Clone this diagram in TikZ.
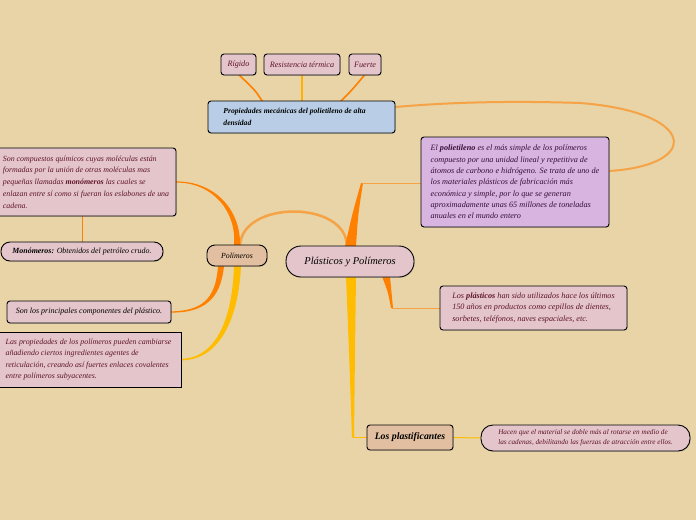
\documentclass[tikz,border=0pt]{standalone}
\usepackage{fontspec}
\setmainfont{Liberation Serif}
\usetikzlibrary{calc,shadows}
\pgfdeclarelayer{back}
\pgfdeclarelayer{edges}
\pgfsetlayers{back,edges,main}
\definecolor{bgc}{RGB}{232,212,167}
\definecolor{pinkf}{RGB}{227,197,203}
\definecolor{tanf}{RGB}{226,191,160}
\definecolor{bluef}{RGB}{185,206,230}
\definecolor{lilacf}{RGB}{216,180,224}
\definecolor{maroon}{RGB}{95,20,40}
\definecolor{purpt}{RGB}{55,15,55}
\definecolor{bror}{RGB}{255,128,0}
\definecolor{lor}{RGB}{245,163,70}
\definecolor{yel}{RGB}{255,188,0}
\tikzset{
  basebox/.style={draw=black, line width=0.9pt, rounded corners=3pt, inner sep=0pt,
    font=\itshape\fontsize{8.2}{11.5}\selectfont,
    drop shadow={opacity=0.25, shadow xshift=0.8pt, shadow yshift=-0.8pt}},
  pinkbox/.style={basebox, fill=pinkf, text=maroon},
  tanbox/.style={basebox, fill=tanf, text=black},
  textblock/.style={align=left},
  thinln/.style={line width=1pt},
}
\begin{document}
\begin{tikzpicture}[x=1pt,y=-1pt]
\begin{pgfonlayer}{back}
\fill[bgc] (0,0) rectangle (696,520);
\end{pgfonlayer}
\useasboundingbox (0,0) rectangle (696,520);

% central
\node[pinkbox, text=black, rounded corners=15pt, minimum width=128pt, minimum height=31pt,
      font=\itshape\fontsize{10.5}{12}\selectfont] (c) at (350,261.5) {Plásticos y Polímeros};
% Polimeros
\node[tanbox, rounded corners=8pt, minimum width=60pt, minimum height=21pt, font=\itshape\fontsize{7.8}{10}\selectfont] (pol) at (237,255.5) {Polímeros};
% Propiedades
\node[basebox, fill=bluef, text=black, textblock, minimum width=187pt, minimum height=32pt,
      font=\itshape\bfseries\fontsize{7.6}{11.5}\selectfont] (prop) at (301.5,117)
  {Propiedades mecánicas del polietileno de alta\hspace*{14pt}\\densidad};
\node[pinkbox, minimum width=35pt, minimum height=21pt] (rig) at (238.5,64.5) {Rígido};
\node[pinkbox, minimum width=76pt, minimum height=21pt] (res) at (302,64.5) {Resistencia térmica};
\node[pinkbox, minimum width=32pt, minimum height=21pt] (fu) at (365,64.5) {Fuerte};
% Polietileno
\node[basebox, fill=lilacf, text=purpt, textblock, minimum width=188pt, minimum height=90pt,
      font=\itshape\fontsize{8.2}{11.3}\selectfont] (pe) at (515,182)
  {El \textbf{polietileno} es el más simple de los polímeros\\
   compuesto por una unidad lineal y repetitiva de\\
   átomos de carbono e hidrógeno. Se trata de uno de\\
   los materiales plásticos de fabricación más\\
   económica y simple, por lo que se generan\\
   aproximadamente unas 65 millones de toneladas\\
   anuales en el mundo entero};
% Los plasticos
\node[pinkbox, textblock, minimum width=187pt, minimum height=44pt,
      font=\itshape\fontsize{8.2}{11.7}\selectfont] (lp) at (533.5,308)
  {Los \textbf{plásticos} han sido utilizados hace los últimos\\
   150 años en productos como cepillos de dientes,\\
   sorbetes, teléfonos, naves espaciales, etc.};
% Los plastificantes
\node[tanbox, minimum width=86pt, minimum height=25pt,
      font=\itshape\bfseries\fontsize{9.8}{11}\selectfont] (plf) at (410,437.5) {Los plastificantes};
\node[pinkbox, rounded corners=12pt, textblock, minimum width=209pt, minimum height=26pt,
      font=\itshape\fontsize{7.2}{10}\selectfont] (hac) at (585.5,438)
  {Hacen que el material se doble más al rotarse en medio de\\
   las cadenas, debilitando las fuerzas de atracción entre ellos.};
% left side
\node[pinkbox, textblock, minimum width=180pt, minimum height=68pt,
      font=\itshape\fontsize{7.9}{11.7}\selectfont] (lb) at (86,182)
  {Son compuestos químicos cuyas moléculas están\\
   formadas por la unión de otras moléculas mas\\
   pequeñas llamadas \textbf{monómeros} las cuales se\\
   enlazan entre sí como si fueran los eslabones de una\\
   cadena.};
\node[pinkbox, fill=pinkf, text=black, rounded corners=9pt, minimum width=162pt, minimum height=19pt,
      font=\itshape\fontsize{7.9}{10}\selectfont] (mon) at (82,251.5)
  {\textbf{Monómeros:} Obtenidos del petróleo crudo.};
\node[pinkbox, text=black, minimum width=164pt, minimum height=22pt,
      font=\itshape\fontsize{8}{10}\selectfont] (sp) at (89,312)
  {Son los principales componentes del plástico.};
\node[pinkbox, rounded corners=0pt, textblock, minimum width=185pt, minimum height=55pt,
      font=\itshape\fontsize{7.9}{11.3}\selectfont] (lprop) at (88.5,359.5)
  {Las propiedades de los polímeros pueden cambiarse\\
   añadiendo ciertos ingredientes agentes de\\
   reticulación, creando así fuertes enlaces covalentes\\
   entre polímeros subyacentes.};

\begin{pgfonlayer}{edges}
% central -> Polimeros arc
\draw[lor, line width=2.5pt] ($(c.north)+(-3,1)$) .. controls (347,200) and (242,200) .. ($(pol.north)+(3,1)$);
% central -> polietileno
\coordinate (k1) at (362,183);
\fill[bror] ($(c.north)+(-5,1)$) .. controls (352,215) .. ($(k1)+(-1,0)$) -- ($(k1)+(1,0)$) .. controls (358,215) .. ($(c.north)+(6,1)$) -- cycle;
\draw[lor, thinln] (k1) -- (k1 -| pe.west);
% central -> plasticos
\coordinate (k2) at (392,308);
\fill[bror] ($(c.south)+(32,-1)$) .. controls (388,292) .. ($(k2)+(-1,0)$) -- ($(k2)+(1,0)$) .. controls (392,292) .. ($(c.south)+(40,-1)$) -- cycle;
\draw[lor, thinln] (k2) -- (k2 -| lp.west);
% central -> plastificantes
\coordinate (k3) at (353,437.5);
\fill[yel] ($(c.south)+(-4,-1)$) .. controls (349,350) .. ($(k3)+(-1,0)$) -- ($(k3)+(1,0)$) .. controls (355,350) .. ($(c.south)+(6,-1)$) -- cycle;
\draw[yel, thinln] (k3) -- (plf.west);
\draw[yel, thinln] (plf.east) -- (hac.west);
% polietileno -> propiedades
\draw[lor, line width=2pt] ($(pe.east)+(0,-11)$) .. controls (702,165) and (697,112) .. (580,103)
      .. controls (490,100) and (430,104) .. ($(prop.east)+(0,-10)$);
% propiedades -> children
\draw[bror, line width=1.6pt] ($(prop.north)+(-39,1)$) .. controls (255,90) .. ($(rig.south)+(0,-1)$);
\draw[yel!80!bror, line width=1.6pt] ($(prop.north)+(0.5,1)$) -- ($(res.south)+(0,-1)$);
\draw[bror, line width=1.6pt] ($(prop.north)+(39,1)$) .. controls (352,90) .. ($(fu.south)+(0,-1)$);
% Polimeros -> left box
\fill[bror] ($(lb.east)+(-1,-0.6)$) .. controls (215,181) and (241,210) .. ($(pol.north)+(3,1)$)
      -- ($(pol.north)+(-3,1)$) .. controls (237,212) and (213,182) .. ($(lb.east)+(-1,0.6)$) -- cycle;
% Polimeros -> son los principales
\fill[bror] ($(pol.south)+(-19,-1)$) .. controls (216,300) and (201,311) .. ($(sp.east)+(-1,-0.6)$)
      -- ($(sp.east)+(-1,0.6)$) .. controls (203,313) and (221,300) .. ($(pol.south)+(-13,-1)$) -- cycle;
% Polimeros -> las propiedades
\fill[yel] ($(pol.south)+(-3,-1)$) .. controls (232,330) and (210,359) .. ($(lprop.east)+(-1,-0.6)$)
      -- ($(lprop.east)+(-1,0.8)$) .. controls (213,361) and (238,330) .. ($(pol.south)+(4,-1)$) -- cycle;
% left box -> monomeros
\draw[bror, thinln] (lb.south -| mon.north) -- (mon.north);
\end{pgfonlayer}
\end{tikzpicture}
\end{document}
